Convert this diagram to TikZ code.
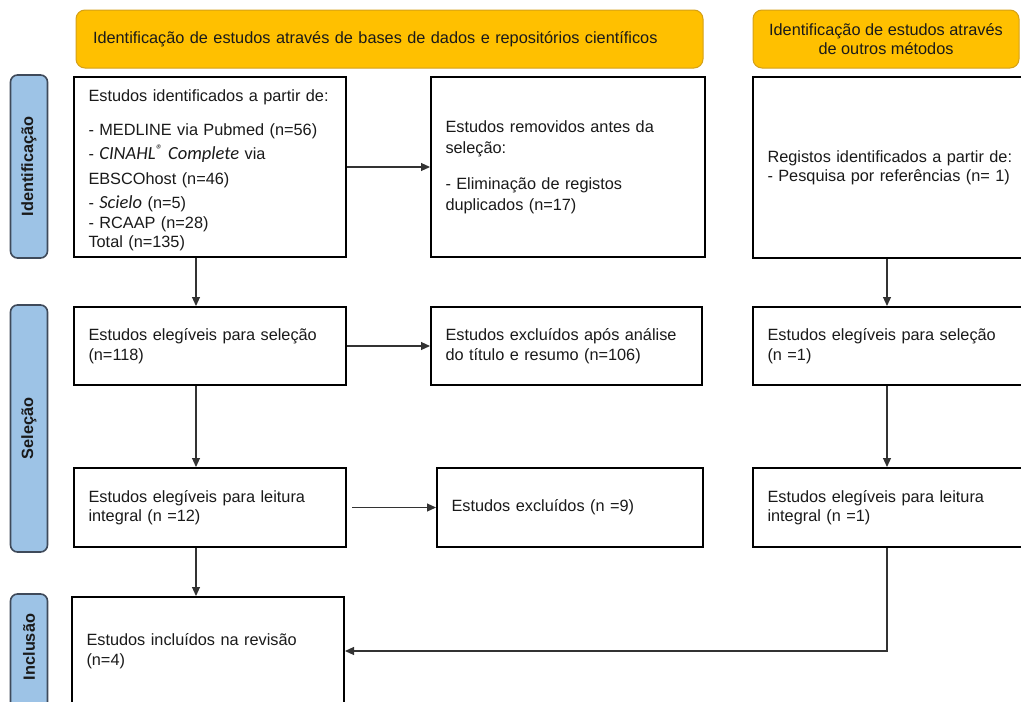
\documentclass[tikz,border=0pt]{standalone}
\usepackage{fontspec}
\setmainfont{Liberation Sans}
\newfontfamily\calib{Carlito}
\usetikzlibrary{arrows.meta}
\definecolor{hdr}{HTML}{FFC000}
\definecolor{hdrline}{HTML}{D4A017}
\definecolor{lblfill}{HTML}{9DC3E6}
\definecolor{lblline}{HTML}{3F4A5A}
\definecolor{txt}{HTML}{1A1A1A}
\definecolor{conn}{HTML}{333333}
\begin{document}
\begin{tikzpicture}[x=1pt,y=-1pt,
  font=\fontsize{16.3}{19.5}\selectfont, text=txt,
  box/.style={draw=black, line width=2pt, fill=white, align=left, inner xsep=14.5pt, inner ysep=2pt, text=txt},
  hdrbox/.style={draw=hdrline, line width=1pt, fill=hdr, rounded corners=9pt, inner ysep=2pt, text=txt},
  phase/.style={draw=lblline, line width=1.6pt, fill=lblfill, rounded corners=7pt, rotate=90, font=\fontsize{16.3}{19.5}\selectfont\bfseries, inner sep=0pt, text=txt},
  arr/.style={draw=conn, line width=1.1pt, -{Triangle[length=9pt,width=8pt]}}]
\useasboundingbox (0,0) rectangle (1021,702);

% phase labels
\node[phase, minimum width=183pt, minimum height=37pt] (p1) at (29,166.5) {Identificação};
\node[phase, minimum width=247pt, minimum height=37pt] (p2) at (29,428.5) {Seleção};
\node[phase, minimum width=126pt, minimum height=37pt] (p3) at (29,657) {\hspace*{20pt}Inclusão};

% headers
\node[hdrbox, text width=593pt, align=left, inner xsep=17pt, minimum height=58pt] (h1) at (389.5,39) {Identificação de estudos através de bases de dados e repositórios científicos};
\node[hdrbox, minimum width=266pt, minimum height=58pt, align=center, font=\fontsize{16.3}{18.5}\selectfont] (h2) at (886,39) {Identificação de estudos através\\de outros métodos};

% column 1
\node[box, text width=243pt, minimum height=180pt] (ids) at (210,167) {\rule{0pt}{18pt}Estudos identificados a partir de:\\[14.5pt]
- MEDLINE via Pubmed (n=56)\\[5pt]
- {\calib\itshape\fontsize{18.5}{19.5}\selectfont CINAHL{\fontsize{14}{14}\selectfont\raisebox{5pt}{®}} Complete} via\\[5.5pt]
EBSCOhost (n=46)\\[4.5pt]
- {\calib\itshape\fontsize{18.5}{19.5}\selectfont Scielo} (n=5)\\[0.5pt]
- RCAAP (n=28)\\[-0.5pt]
Total (n=135)};
\node[box, text width=243pt, minimum height=78pt] (elg) at (210,346) {Estudos elegíveis para seleção\\(n=118)};
\node[box, text width=243pt, minimum height=79pt] (lei) at (210,507.5) {Estudos elegíveis para leitura\\integral (n =12)};
\node[box, text width=243pt, minimum height=108pt] (inc) at (208,651) {Estudos incluídos na revisão\\(n=4)};

% column 2
\node[box, text width=245pt, minimum height=180pt] (rem) at (568,167) {Estudos removidos antes da\\[1.5pt]seleção:\\[16.5pt]- Eliminação de registos\\[1.5pt]duplicados (n=17)};
\node[box, text width=242pt, minimum height=78pt] (exa) at (566.5,346) {Estudos excluídos após análise\\do título e resumo (n=106)};
\node[box, text width=237pt, minimum height=79pt] (ex9) at (570,507.5) {Estudos excluídos (n =9)};

% column 3
\node[box, text width=258pt, minimum height=181pt] (reg) at (896.5,167.5) {Registos identificados a partir de:\\[-0.5pt]- Pesquisa por referências (n= 1)};
\node[box, text width=258pt, minimum height=78pt] (el2) at (896.5,346) {Estudos elegíveis para seleção\\(n =1)};
\node[box, text width=258pt, minimum height=79pt] (le2) at (896.5,507.5) {Estudos elegíveis para leitura\\integral (n =1)};

% connectors
\draw[arr] (ids.east) -- (rem.west);
\draw[arr] ([xshift=-14pt]ids.south) -- ([xshift=-14pt]elg.north);
\draw[arr] (elg.east) -- (exa.west);
\draw[arr] ([xshift=-14pt]elg.south) -- ([xshift=-14pt]lei.north);
\draw[arr] ([xshift=5pt]lei.east) -- (ex9.west);
\draw[arr] ([xshift=-14pt]lei.south) -- ([xshift=-14pt]lei.south |- inc.north);
\draw[arr] ([xshift=-9.5pt]reg.south) -- ([xshift=-9.5pt]el2.north);
\draw[arr] ([xshift=-9.5pt]el2.south) -- ([xshift=-9.5pt]le2.north);
\draw[arr] ([xshift=-9.5pt]le2.south) |- (inc.east);
\end{tikzpicture}
\end{document}
